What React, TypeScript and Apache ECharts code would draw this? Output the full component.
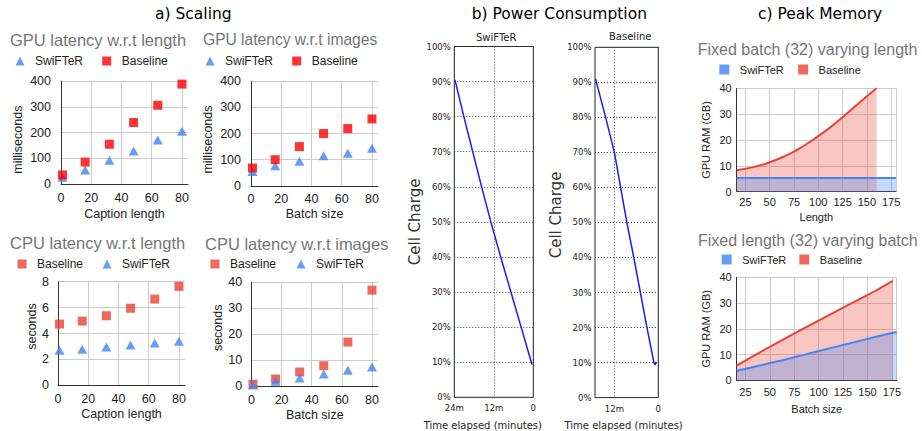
import React, { useEffect, useRef } from 'react';
import * as echarts from 'echarts';

// ---------- data ----------
const lengthX = [1, 16, 32, 48, 64, 80];
const batchX = [1, 16, 32, 48, 64, 80];
const gpuLenSwifter = [27, 55, 93, 129, 172, 205];
const gpuLenBaseline = [36, 86, 155, 239, 306, 388];
const gpuImgSwifter = [55, 77, 94, 115, 125, 144];
const gpuImgBaseline = [68, 100, 150, 200, 219, 256];
const cpuLenBaseline = [4.73, 4.96, 5.37, 5.95, 6.66, 7.64];
const cpuLenSwifter = [2.7, 2.78, 2.96, 3.11, 3.27, 3.4];
const cpuImgBaseline = [0.8, 2.8, 5.5, 7.9, 17.0, 37.0];
const cpuImgSwifter = [0.5, 1.9, 3.2, 4.7, 6.2, 7.4];

const powerSwTime = [23.8, 21.1, 18.4, 15.7, 12.9, 9.9, 6.8, 3.7, 0.6, 0.4];
const powerSwCharge = [90.5, 80, 70, 60, 50, 40, 30, 20, 10, 9.3];
const powerBlTime = [17.1, 16.9, 14.4, 12.0, 10.3, 8.6, 6.7, 4.9, 3.1, 1.2, 0.9, 0.45];
const powerBlCharge = [91, 90, 80, 70, 60, 50, 40, 30, 20, 10, 9.3, 10.2];

const memLenX = [16, 32, 48, 64, 80, 96, 112, 128, 144, 160];
const memLenBaseline = [8.3, 9.4, 11.1, 13.5, 16.6, 20.5, 24.8, 29.8, 35.0, 40.0];
const memLenSwX = [16, 32, 48, 64, 80, 96, 112, 128, 144, 160, 176, 180];
const memLenSwifter = [5.3, 5.3, 5.3, 5.3, 5.3, 5.3, 5.3, 5.3, 5.3, 5.3, 5.3, 5.3];

const memBatchX = [16, 32, 48, 64, 80, 96, 112, 128, 144, 160, 176];
const memBatchBaseline = [5.7, 9.2, 12.6, 15.9, 19.2, 22.4, 25.6, 28.8, 31.9, 35.1, 38.6];
const memBatchSwX = [16, 32, 48, 64, 80, 96, 112, 128, 144, 160, 176, 180];
const memBatchSwifter = [3.7, 5.1, 6.5, 7.9, 9.4, 11.0, 12.5, 14.0, 15.5, 17.0, 18.5, 18.7];

const latencyXTicks = [0, 20, 40, 60, 80];
const memXTicks = [25, 50, 75, 100, 125, 150, 175];
const memXGrid = [25, 50, 75, 100, 125, 150, 175, 180];
const powerSwTicks = [0, 12, 24];
const powerBlTicks = [0, 12];

// ---------- styles ----------
const GF = 'Liberation Sans, Arial, sans-serif';
const DF = 'DejaVu Sans, sans-serif';
const BLUE = '#4285F4';
const RED = '#FF0000';
const RED2 = '#EA4335';
const PBLUE = '#1a1aff';

// legend icons: centred glyph inside a wider box (invisible move-to points fix the box)
const ICON_TRI = 'path://M0,0 M20,9 M5.5,9 L10,0 L14.5,9 Z';
const ICON_SQ = 'path://M0,0 M20,9 M5.5,0 L14.5,0 L14.5,9 L5.5,9 Z';
const ICON_SQ_MEM = 'path://M0,0 M21,10 M5.5,0 L15.5,0 L15.5,10 L5.5,10 Z';

const zip = (xs: number[], ys: number[]) => xs.map((x, i) => [x, ys[i]]);

function googleX(gridIndex: number, min: number, max: number, ticks: number[], labels: number[], name: string, nameGap: number, fs: number, margin: number) {
  return {
    type: 'value', gridIndex, min, max,
    axisLine: { show: true, onZero: false, lineStyle: { color: '#333', width: 1 } },
    axisTick: { show: false, customValues: ticks },
    axisLabel: { customValues: labels, color: '#222', fontSize: fs, fontFamily: GF, margin },
    splitLine: { show: true, lineStyle: { color: '#ccc', width: 1 } },
    name, nameLocation: 'middle', nameGap,
    nameTextStyle: { color: '#222', fontSize: fs, fontFamily: GF },
  };
}

function googleY(gridIndex: number, max: number, interval: number, name: string, nameGap: number, fs: number, margin: number, pad: number[]) {
  return {
    type: 'value', gridIndex, min: 0, max, interval,
    axisLine: { show: true, lineStyle: { color: '#333', width: 1 } },
    axisTick: { show: false },
    axisLabel: { color: '#222', fontSize: fs, fontFamily: GF, margin },
    splitLine: { show: true, lineStyle: { color: '#ccc', width: 1 } },
    name, nameLocation: 'middle', nameGap, nameRotate: 90,
    nameTextStyle: { color: '#222', fontSize: fs, fontFamily: GF, padding: pad },
  };
}

function powerX(gridIndex: number, max: number, ticks: number[], pad: number[]) {
  return {
    type: 'value', gridIndex, min: 0, max, inverse: true,
    axisLine: { show: false },
    axisTick: { show: false, customValues: ticks },
    axisLabel: {
      customValues: ticks,
      formatter: (v: number) => (v === 0 ? '0' : v + 'm'),
      color: '#222', fontSize: 8.5, fontFamily: DF, margin: 6.5,
    },
    splitLine: { show: true, lineStyle: { color: '#444', type: [1, 2], width: 1 } },
    name: 'Time elapsed (minutes)', nameLocation: 'middle', nameGap: 23,
    nameTextStyle: { color: '#222', fontSize: 10, fontFamily: DF, padding: pad },
  };
}

function powerY(gridIndex: number, nameGap: number, pad: number[]) {
  return {
    type: 'value', gridIndex, min: 0, max: 100, interval: 10,
    axisLine: { show: false }, axisTick: { show: false },
    axisLabel: { formatter: '{value}%', color: '#222', fontSize: 8.5, fontFamily: DF, margin: 3.5 },
    splitLine: { show: true, lineStyle: { color: '#444', type: [1, 2], width: 1 } },
    name: 'Cell Charge', nameLocation: 'middle', nameGap, nameRotate: 90,
    nameTextStyle: { color: '#333', fontSize: 15, fontFamily: DF, padding: pad },
  };
}

function title(text: string, left: number, top: number, fs: number, family: string, color: string) {
  return { text, left, top, padding: 0, textStyle: { fontSize: fs, fontFamily: family, fontWeight: 'normal', color } };
}

const legendBase = {
  orient: 'horizontal', padding: 0, itemWidth: 20, itemHeight: 9,
  selectedMode: false, textStyle: { color: '#222', fontSize: 12, fontFamily: GF },
};
const legendMem = { ...legendBase, itemWidth: 21, itemHeight: 10, textStyle: { color: '#222', fontSize: 11, fontFamily: GF } };

const swTri = (c: string) => ({ name: 'SwiFTeR', icon: ICON_TRI, itemStyle: { color: c } });
const blSq = (c: string) => ({ name: 'Baseline', icon: ICON_SQ, itemStyle: { color: c } });
const memItem = (name: string, c: string) => ({ name, icon: ICON_SQ_MEM, itemStyle: { color: c } });

function scatter(name: string, idx: number, xs: number[], ys: number[], color: string) {
  const tri = name === 'SwiFTeR';
  return {
    type: 'scatter', name, xAxisIndex: idx, yAxisIndex: idx,
    symbol: tri ? 'triangle' : 'rect', symbolSize: tri ? [10, 9] : 9,
    itemStyle: { color }, data: zip(xs, ys),
  };
}

function area(name: string, idx: number, xs: number[], ys: number[], color: string, smooth: boolean) {
  return {
    type: 'line', name, xAxisIndex: idx, yAxisIndex: idx, data: zip(xs, ys),
    showSymbol: false, smooth, lineStyle: { color, width: 2 }, itemStyle: { color },
    areaStyle: { color, opacity: 0.3 },
  };
}

function powerLine(name: string, idx: number, xs: number[], ys: number[]) {
  return {
    type: 'line', name, xAxisIndex: idx, yAxisIndex: idx, data: zip(xs, ys),
    showSymbol: false, lineStyle: { color: PBLUE, width: 1.5 }, itemStyle: { color: PBLUE },
  };
}

const grids = [
  { left: 61, top: 81, width: 127, height: 103.3 },
  { left: 251, top: 81.3, width: 127, height: 104.5 },
  { left: 58, top: 281.7, width: 127, height: 103.6 },
  { left: 251.5, top: 282.3, width: 126.5, height: 104 },
  { left: 454.3, top: 46.5, width: 79, height: 350.8, show: true, borderColor: '#222', borderWidth: 1 },
  { left: 595, top: 47.3, width: 63.3, height: 350.3, show: true, borderColor: '#222', borderWidth: 1 },
  { left: 736.7, top: 88.3, width: 159.3, height: 103.4 },
  { left: 736.7, top: 277.3, width: 160, height: 103 },
].map((g) => ({ outerBoundsMode: 'none', containLabel: false, ...g }));

const option: any = {
  animation: false,
  backgroundColor: '#fff',
  title: [
    title('a) Scaling', 155, 6, 15.5, DF, '#000'),
    title('b) Power Consumption', 471.7, 6, 15.5, DF, '#000'),
    title('c) Peak Memory', 758, 6, 15.5, DF, '#000'),
    title('GPU latency w.r.t length', 10, 31, 16.5, GF, '#757575'),
    title('GPU latency w.r.t images', 203, 31.5, 15.6, GF, '#757575'),
    title('CPU latency w.r.t length', 10, 234.3, 16.5, GF, '#757575'),
    title('CPU latency w.r.t images', 205, 235, 16.5, GF, '#757575'),
    title('Fixed batch (32) varying length', 697.7, 41.7, 16, GF, '#757575'),
    title('Fixed length (32) varying batch', 698, 232.5, 16, GF, '#757575'),
    title('SwiFTeR', 476, 32, 10, DF, '#222'),
    title('Baseline', 609, 31.2, 10, DF, '#222'),
  ],
  legend: [
    { ...legendBase, left: 10, top: 55, itemGap: 13.7, data: [swTri(BLUE), blSq(RED)] },
    { ...legendBase, left: 200, top: 55, itemGap: 13.7, data: [swTri(BLUE), blSq(RED)] },
    { ...legendBase, left: 12, top: 258, itemGap: 14, data: [blSq(RED2), swTri(BLUE)] },
    { ...legendBase, left: 205, top: 258, itemGap: 15, data: [blSq(RED2), swTri(BLUE)] },
    { ...legendMem, left: 713.8, top: 64, itemGap: 8.8, data: [memItem('SwiFTeR', BLUE), memItem('Baseline', RED2)] },
    { ...legendMem, left: 716.2, top: 254, itemGap: 7.6, data: [memItem('SwiFTeR', BLUE), memItem('Baseline', RED2)] },
  ],
  grid: grids,
  xAxis: [
    googleX(0, 0, 84, latencyXTicks, latencyXTicks, 'Caption length', 23, 12.5, 7),
    googleX(1, 0, 84, latencyXTicks, latencyXTicks, 'Batch size', 22, 12.5, 7),
    googleX(2, 0, 84, latencyXTicks, latencyXTicks, 'Caption length', 22.5, 12.5, 7),
    googleX(3, 0, 84, latencyXTicks, latencyXTicks, 'Batch size', 22.5, 12.5, 7),
    powerX(4, 24, powerSwTicks, [0, 22, 0, 0]),
    powerX(5, 17.3, powerBlTicks, [0, 6, 0, 0]),
    googleX(6, 16, 180, memXGrid, memXTicks, 'Length', 20, 11, 5),
    googleX(7, 16, 180, memXGrid, memXTicks, 'Batch size', 23.5, 11, 6),
  ],
  yAxis: [
    googleY(0, 400, 100, 'milliseconds', 36.5, 12.5, 10, [0, 14, 0, 0]),
    googleY(1, 400, 100, 'milliseconds', 36.5, 12.5, 10, [0, 12, 0, 0]),
    googleY(2, 8, 2, 'seconds', 20, 12.5, 9, [0, 0, 0, 14]),
    googleY(3, 40, 10, 'seconds', 27.3, 12.5, 9.4, [0, 0, 0, 13]),
    powerY(4, 32, [0, 0, 0, 0]),
    powerY(5, 30.8, [0, 0, 0, 15]),
    googleY(6, 40, 10, 'GPU RAM (GB)', 25.2, 11, 5, [0, 0, 0, 0]),
    googleY(7, 40, 10, 'GPU RAM (GB)', 25.2, 11, 5, [0, 0, 0, 0]),
  ],
  series: [
    scatter('SwiFTeR', 0, lengthX, gpuLenSwifter, BLUE),
    scatter('Baseline', 0, lengthX, gpuLenBaseline, RED),
    scatter('SwiFTeR', 1, batchX, gpuImgSwifter, BLUE),
    scatter('Baseline', 1, batchX, gpuImgBaseline, RED),
    scatter('Baseline', 2, lengthX, cpuLenBaseline, RED2),
    scatter('SwiFTeR', 2, lengthX, cpuLenSwifter, BLUE),
    scatter('Baseline', 3, batchX, cpuImgBaseline, RED2),
    scatter('SwiFTeR', 3, batchX, cpuImgSwifter, BLUE),
    powerLine('SwiFTeR power', 4, powerSwTime, powerSwCharge),
    powerLine('Baseline power', 5, powerBlTime, powerBlCharge),
    area('Baseline', 6, memLenX, memLenBaseline, RED2, true),
    area('SwiFTeR', 6, memLenSwX, memLenSwifter, BLUE, false),
    area('Baseline', 7, memBatchX, memBatchBaseline, RED2, false),
    area('SwiFTeR', 7, memBatchSwX, memBatchSwifter, BLUE, false),
  ],
};

export default function App() {
  const ref = useRef<HTMLDivElement>(null);
  useEffect(() => {
    document.body.style.margin = '0';
    const chart = echarts.init(ref.current!, null, { renderer: 'svg' });
    chart.setOption(option);
    return () => chart.dispose();
  }, []);
  return <div ref={ref} style={{ width: 922, height: 431 }} />;
}
